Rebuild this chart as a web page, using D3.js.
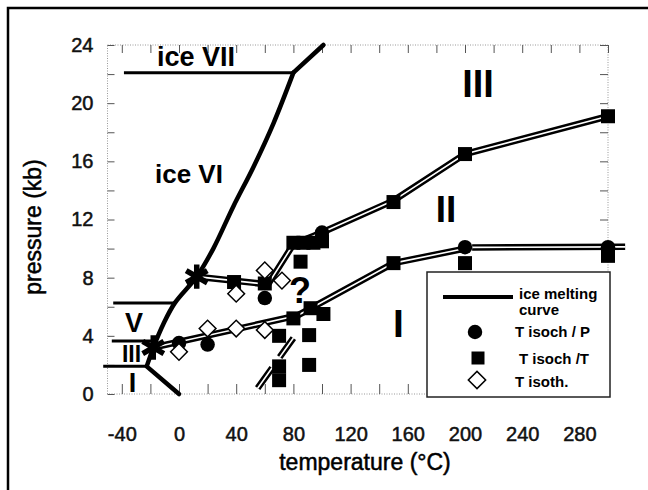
<!DOCTYPE html>
<html>
<head>
<meta charset="utf-8">
<script src="https://cdn.jsdelivr.net/npm/d3@7"></script>
<style>
body { margin: 0; background: #fff; }
svg text { font-family: "Liberation Sans", Arial, Helvetica, sans-serif; }
</style>
</head>
<body>
<div id="chart"></div>
<script>
// axis ticks
var xTicks = [-40, 0, 40, 80, 120, 160, 200, 240, 280];
var yTicks = [0, 4, 8, 12, 16, 20, 24];

// ice melting curve (T in °C, P in kb)
var meltT = [0, -22.6, -18, -11, -3, 12.4, 24, 38, 52, 66, 80, 101];
var meltP = [0, 1.9, 3.2, 4.8, 6.25, 8.07, 10.0, 12.9, 15.6, 18.6, 22.1, 24];

// horizontal phase boundaries (start T, end T, P)
var boundT0 = [-38.5, -46, -47, -53];
var boundT1 = [80, -3, -19, -22.6];
var boundP = [22.1, 6.25, 3.65, 1.9];

// double lines
var upT = [62, 80, 100, 150, 200, 300];
var upP = [7.5, 10.3, 11.1, 13.3, 16.5, 19.1];
var midT = [12.4, 61];
var midP = [8.07, 7.55];
var lowT = [-18, 83, 150, 200];
var lowP = [3.2, 5.4, 9.0, 10.0];
var rightT = [205, 312];
var rightP = [10.08, 10.12];
var dashT = [55, 80];
var dashP = [0.4, 3.85];

// T isoch / P
var circT = [0, 20, 60, 100, 200, 300];
var circP = [3.5, 3.4, 6.6, 11.1, 10.1, 10.1];
// T isoch / T
var sqT = [38.5, 60, 80, 87, 94, 100, 85, 92, 101, 80, 70, 91, 70, 70, 91, 150, 200, 300, 150, 200, 300];
var sqP = [7.7, 7.6, 10.4, 10.4, 10.4, 10.5, 9.1, 5.9, 5.5, 5.2, 4.0, 4.05, 1.9, 0.95, 2.0, 13.2, 16.5, 19.1, 9.0, 9.0, 9.5];
// T isoth.
var diaT = [0, 20, 40, 60, 40, 60, 72];
var diaP = [2.9, 4.5, 4.5, 4.4, 6.9, 8.5, 7.8];
// triple points
var starT = [-18, 12.4];
var starP = [3.2, 8.07];

var width = 648, height = 490;

var svg = d3.select("#chart").append("svg")
    .attr("width", width)
    .attr("height", height);

var x = d3.scaleLinear().domain([-50, 300]).range([107.5, 608]);
var y = d3.scaleLinear().domain([0, 24]).range([394, 45]);

// outer frame (left + top only visible)
svg.append("path")
    .attr("d", "M8,490V8H648")
    .attr("fill", "none")
    .attr("stroke", "#000")
    .attr("stroke-width", 2.5);

// dotted plot frame
svg.append("rect")
    .attr("x", x(-50)).attr("y", y(24))
    .attr("width", x(300) - x(-50)).attr("height", y(0) - y(24))
    .attr("fill", "none")
    .attr("stroke", "#999")
    .attr("stroke-dasharray", "1,1.5");

// inner ticks
function ticks(axis, tx, ty) {
    var a = svg.append("g").attr("transform", "translate(" + tx + "," + ty + ")").call(axis);
    a.select(".domain").remove();
    a.selectAll("line").attr("stroke", "#555");
}
var minorX = d3.range(-40, 301, 20);
var minorY = d3.range(0, 25, 2);
ticks(d3.axisBottom(x).tickValues(minorX).tickSize(-10).tickFormat(""), 0, y(0));
ticks(d3.axisTop(x).tickValues(minorX).tickSize(-8).tickFormat(""), 0, y(24));
ticks(d3.axisLeft(y).tickValues(minorY).tickSize(-7).tickFormat(""), x(-50), 0);
ticks(d3.axisRight(y).tickValues(minorY).tickSize(-8).tickFormat(""), x(300), 0);

// tick labels
var fmt = function(d) { return String(d); };
var xl = svg.append("g").attr("transform", "translate(0," + y(0) + ")")
    .call(d3.axisBottom(x).tickValues(xTicks).tickFormat(fmt).tickSize(0).tickPadding(33));
var yl = svg.append("g").attr("transform", "translate(" + x(-50) + ",0)")
    .call(d3.axisLeft(y).tickValues(yTicks).tickFormat(fmt).tickSize(0).tickPadding(14));
[xl, yl].forEach(function(a) {
    a.select(".domain").remove();
    a.attr("font-family", null);
    a.selectAll("text").attr("font-size", 20).attr("fill", "#111")
        .attr("stroke", "#111").attr("stroke-width", 0.5);
});

// axis titles
svg.append("text")
    .attr("x", 365).attr("y", 470)
    .attr("text-anchor", "middle")
    .attr("font-size", 23)
    .attr("stroke", "#000").attr("stroke-width", 0.5)
    .text("temperature (°C)");
svg.append("text")
    .attr("transform", "translate(41,227) rotate(-90)")
    .attr("text-anchor", "middle")
    .attr("font-size", 23)
    .attr("stroke", "#000").attr("stroke-width", 0.5)
    .text("pressure (kb)");

var line = d3.line();
function pts(T, P) {
    return T.map(function(t, i) { return [x(t), y(P[i])]; });
}

// melting curve: straight kinks at the ends, smooth VI branch
var melt = pts(meltT, meltP);
[[melt.slice(0, 3), d3.curveLinear], [melt.slice(2, 11), d3.curveCatmullRom], [melt.slice(10), d3.curveLinear]]
    .forEach(function(part) {
        svg.append("path")
            .attr("d", d3.line().curve(part[1])(part[0]))
            .attr("fill", "none")
            .attr("stroke", "#000")
            .attr("stroke-width", 4.5)
            .attr("stroke-linecap", "round")
            .attr("stroke-linejoin", "round");
    });

// phase boundaries
for (var i = 0; i < boundP.length; i++) {
    svg.append("line")
        .attr("x1", x(boundT0[i])).attr("x2", x(boundT1[i]))
        .attr("y1", y(boundP[i])).attr("y2", y(boundP[i]))
        .attr("stroke", "#000")
        .attr("stroke-width", 3);
}

// double lines
function doubleLine(T, P, dash) {
    var d = line(pts(T, P));
    svg.append("path").attr("d", d)
        .attr("fill", "none").attr("stroke", "#000").attr("stroke-width", 6.5)
        .attr("stroke-dasharray", dash);
    svg.append("path").attr("d", d)
        .attr("fill", "none").attr("stroke", "#fff").attr("stroke-width", 1.6)
        .attr("stroke-dasharray", dash);
}
doubleLine(upT, upP, null);
doubleLine(midT, midP, null);
doubleLine(lowT, lowP, null);
doubleLine(rightT, rightP, null);
doubleLine(dashT, dashP, "25,13");

// markers
var sq = d3.symbol().type(d3.symbolSquare).size(196)();
var ci = d3.symbol().type(d3.symbolCircle).size(165)();
var di = d3.symbol().type(d3.symbolSquare).size(140)();
var st = d3.symbol().type(d3.symbolAsterisk).size(420)();

svg.selectAll(".sq").data(sqT).enter().append("path")
    .attr("d", sq)
    .attr("transform", function(d, i) { return "translate(" + x(d) + "," + y(sqP[i]) + ")"; })
    .attr("fill", "#000");
svg.selectAll(".ci").data(circT).enter().append("path")
    .attr("d", ci)
    .attr("transform", function(d, i) { return "translate(" + x(d) + "," + y(circP[i]) + ")"; })
    .attr("fill", "#000");
svg.selectAll(".di").data(diaT).enter().append("path")
    .attr("d", di)
    .attr("transform", function(d, i) { return "translate(" + x(d) + "," + y(diaP[i]) + ") rotate(45)"; })
    .attr("fill", "#fff")
    .attr("stroke", "#000")
    .attr("stroke-width", 1.5);
svg.selectAll(".st").data(starT).enter().append("path")
    .attr("d", st)
    .attr("transform", function(d, i) { return "translate(" + x(d) + "," + y(starP[i]) + ")"; })
    .attr("fill", "none")
    .attr("stroke", "#000")
    .attr("stroke-width", 5.5);

// region labels
function label(txt, px, py, size, anchor) {
    svg.append("text")
        .attr("x", px).attr("y", py)
        .attr("font-size", size)
        .attr("font-weight", "bold")
        .attr("text-anchor", anchor || "middle")
        .text(txt);
}
label("ice VII", 157, 66, 27, "start");
label("ice VI", 155, 183, 26, "start");
label("III", 478, 97, 38);
label("II", 446, 222, 37);
label("I", 398.5, 337, 39);
label("V", 134, 332, 27);
label("III", 131.5, 362, 23);
label("I", 132.5, 392, 27);
label("?", 300, 303, 36);

// legend
var lg = svg.append("g");
lg.append("rect")
    .attr("x", 427).attr("y", 272)
    .attr("width", 183).attr("height", 125)
    .attr("fill", "#fff")
    .attr("stroke", "#222")
    .attr("stroke-width", 1.5);
lg.append("line")
    .attr("x1", 443).attr("x2", 513)
    .attr("y1", 297).attr("y2", 297)
    .attr("stroke", "#000").attr("stroke-width", 4);
lg.append("path").attr("d", ci).attr("transform", "translate(475,332)");
lg.append("path").attr("d", d3.symbol().type(d3.symbolSquare).size(169)()).attr("transform", "translate(478,358)");
lg.append("path").attr("d", d3.symbol().type(d3.symbolSquare).size(150)())
    .attr("transform", "translate(477,380) rotate(45)")
    .attr("fill", "#fff").attr("stroke", "#000").attr("stroke-width", 1.5);
var legText = [["ice melting", 519, 299], ["curve", 519, 315], ["T isoch / P", 515, 337], ["T isoch /T", 519, 364], ["T isoth.", 515, 387]];
legText.forEach(function(t) {
    lg.append("text")
        .attr("x", t[1]).attr("y", t[2])
        .attr("font-size", 15)
        .attr("font-weight", "bold")
        .text(t[0]);
});
</script>
</body>
</html>
